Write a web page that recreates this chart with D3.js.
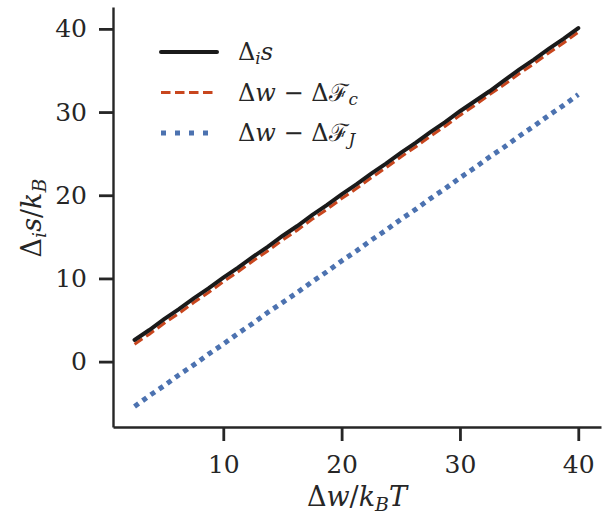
<!DOCTYPE html>
<html>
<head>
<meta charset="utf-8">
<script src="https://cdn.jsdelivr.net/npm/d3@7"></script>
<style>
  html, body { margin: 0; padding: 0; background: #fff; }
  svg text { font-family: "DejaVu Serif", serif; fill: #262626; }
</style>
</head>
<body>
<svg id="chart" width="606" height="515"></svg>
<script>
// Work done vs entropy production estimates
const workValues = [2.5, 3.75, 5.0, 6.25, 7.5, 8.75, 10.0, 11.25, 12.5, 13.75, 15.0, 16.25, 17.5, 18.75, 20.0,
  21.25, 22.5, 23.75, 25.0, 26.25, 27.5, 28.75, 30.0, 31.25, 32.5, 33.75, 35.0, 36.25, 37.5, 38.75, 40.0];
const entropyProduction = [2.6, 3.8, 5.1, 6.3, 7.6, 8.8, 10.1, 11.3, 12.6, 13.8, 15.1, 16.3, 17.6, 18.8, 20.1,
  21.3, 22.6, 23.8, 25.1, 26.3, 27.6, 28.8, 30.1, 31.3, 32.5, 33.8, 35.1, 36.3, 37.6, 38.8, 40.1];
const workMinusFc = [2.1, 3.3, 4.6, 5.8, 7.1, 8.3, 9.6, 10.8, 12.1, 13.3, 14.6, 15.8, 17.1, 18.3, 19.6,
  20.8, 22.1, 23.3, 24.6, 25.8, 27.1, 28.3, 29.6, 30.8, 32.1, 33.3, 34.6, 35.8, 37.1, 38.3, 39.6];
const workMinusFJ = [-5.4, -4.1, -2.9, -1.6, -0.4, 0.9, 2.1, 3.4, 4.6, 5.9, 7.1, 8.3, 9.6, 10.8, 12.1,
  13.3, 14.6, 15.8, 17.1, 18.3, 19.6, 20.8, 22.1, 23.3, 24.6, 25.8, 27.1, 28.3, 29.6, 30.8, 32.1];
const xTicks = [10, 20, 30, 40];
const yTicks = [0, 10, 20, 30, 40];

const series = [
  { key: "s",  values: entropyProduction, color: "#1a1a1a", width: 4, dash: null,      legendDash: null },
  { key: "Fc", values: workMinusFc,       color: "#c8461e", width: 3, dash: "9.5,4.5", legendDash: "9.5,4.5" },
  { key: "FJ", values: workMinusFJ,       color: "#4c72b0", width: 5, dash: "5,5",     legendDash: "5,9" }
];

const svg = d3.select("#chart");
const margin = { left: 113, top: 7, right: 5, bottom: 88 };
const W = 606, H = 515;

const x = d3.scaleLinear().domain([0.68, 41.92]).range([margin.left, W - margin.right]);
const y = d3.scaleLinear().domain([-7.86, 42.63]).range([H - margin.bottom, margin.top]);

// axes
const xAxis = svg.append("g")
  .attr("transform", `translate(0,${H - margin.bottom})`)
  .call(d3.axisBottom(x).tickValues(xTicks).tickSize(14).tickPadding(14).tickSizeOuter(0));
const yAxis = svg.append("g")
  .attr("transform", `translate(${margin.left},0)`)
  .call(d3.axisLeft(y).tickValues(yTicks).tickSize(14).tickPadding(12).tickSizeOuter(0));

[xAxis, yAxis].forEach(g => {
  g.select(".domain").attr("stroke", "#262626").attr("stroke-width", 2.4);
  g.selectAll(".tick line").attr("stroke", "#262626").attr("stroke-width", 2.8);
  g.selectAll(".tick text").attr("font-size", 25).attr("fill", "#262626")
    .attr("font-family", "DejaVu Serif");
});

// lines
const pts = vals => workValues.map((w, i) => [w, vals[i]]);
const line = d3.line().x(d => x(d[0])).y(d => y(d[1]));

series.slice().reverse().forEach(s => {
  svg.append("path")
    .datum(pts(s.values))
    .attr("fill", "none")
    .attr("stroke", s.color)
    .attr("stroke-width", s.width)
    .attr("stroke-dasharray", s.dash)
    .attr("stroke-linecap", s.dash ? "butt" : "round")
    .attr("d", line);
});

// math-style label helper: parts are [text, style] with style in {"", "i", "sub", "subi"}
function mathText(sel, parts, size) {
  parts.forEach(([t, st]) => {
    const ts = sel.append("tspan").text(t);
    if (st.includes("i")) ts.attr("font-style", "italic");
    if (st.startsWith("sub")) {
      ts.attr("font-size", size * 0.7).attr("baseline-shift", "-0.25em");
    } else {
      ts.attr("font-size", size);
    }
  });
  return sel;
}

// axis labels
mathText(svg.append("text")
  .attr("x", 357).attr("y", 506).attr("text-anchor", "middle"),
  [["Δ", ""], ["w", "i"], ["/", ""], ["k", "i"], ["B", "subi"], ["T", "i"]], 27);

mathText(svg.append("text")
  .attr("transform", "translate(41,218) rotate(-90)").attr("text-anchor", "middle"),
  [["Δ", ""], ["i", "subi"], ["s", "i"], ["/", ""], ["k", "i"], ["B", "subi"]], 27);

// legend
const legendLabels = [
  [["Δ", ""], ["i", "subi"], ["s", "i"]],
  [["Δ", ""], ["w", "i"], [" − Δ", ""], ["ℱ", ""], ["c", "subi"]],
  [["Δ", ""], ["w", "i"], [" − Δ", ""], ["ℱ", ""], ["J", "subi"]]
];
const legend = svg.append("g");
series.forEach((s, i) => {
  const cy = 52 + i * 40.5;
  legend.append("line")
    .attr("x1", 161).attr("x2", 217).attr("y1", cy).attr("y2", cy)
    .attr("stroke", s.color).attr("stroke-width", s.width)
    .attr("stroke-dasharray", s.legendDash)
    .attr("stroke-linecap", s.legendDash ? "butt" : "round");
  mathText(legend.append("text").attr("x", 238).attr("y", cy + 8), legendLabels[i], 24);
});
</script>
</body>
</html>
